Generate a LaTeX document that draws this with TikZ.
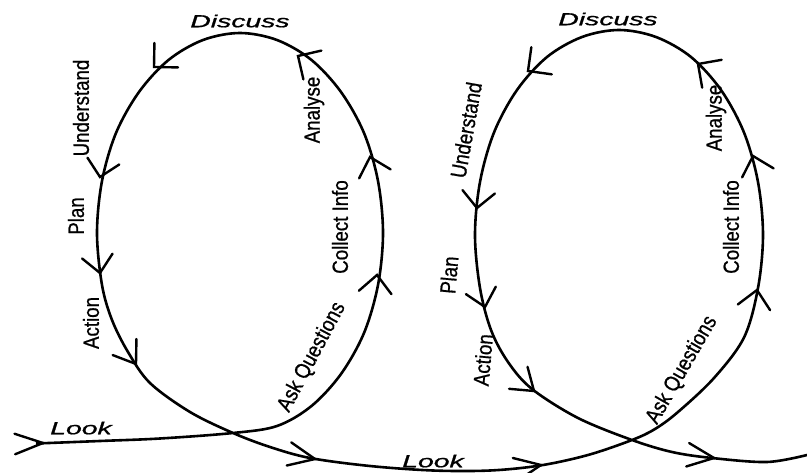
\documentclass[tikz,border=0pt]{standalone}
\usepackage{fontspec}
\setmainfont{Liberation Sans}[FakeBold=0.8]
\usepackage{graphicx}
\newcommand\vtip[5]{\draw[tipline] (#1,#2) ++({#3+180+#4}:#5pt) -- (#1,#2) -- ++({#3+180-#4}:#5pt);}
\begin{document}
\begin{tikzpicture}[x=1pt,y=-1pt,
  loopline/.style={line width=2.6pt, line join=round},
  tipline/.style={line width=2.4pt, line cap=round, line join=miter},
  hlabel/.style={font=\fontsize{17.5}{18}\selectfont\itshape, inner sep=0pt},
  rlabel/.style={font=\fontsize{22}{22}\selectfont, inner sep=0pt}]
\useasboundingbox (0,0) rectangle (807,473);
\fill[white] (0,0) rectangle (807,473);
% the single curve with its two loops
\draw[loopline] plot[smooth, tension=0.55] coordinates {
  (36,443.5) (100,441) (160,438.5) (233,433) (277,426) (311.5,406) (341,374)
  (364,333) (378,285) (383,233) (378,181) (364,133) (341,92) (311.5,60)
  (277,40) (240,33) (203,40) (168.5,60) (139,92) (116,133) (102,181)
  (97,233) (102,285) (112,320) (128,352) (150,383) (190,412) (233,433) (270,447)
  (310,458) (370,466) (433,470.5) (490,470.5) (540,465.5) (588,455)
  (632,440) (655,429) (678,412) (714,378) (744,337.5) (758,288) (763,235)
  (758,182) (744,132.5) (721,90) (691,57) (656,37) (619,30) (582,37)
  (547,57) (517,90) (494,132.5) (480,182) (475,235) (480,288) (491,330)
  (508,362) (532,389) (578,418) (632,440) (672,452) (712,458) (767,462) (807,455)};
% arrow heads
\vtip{43}{443}{2}{20}{30}
\vtip{377}{275}{84}{43}{24}
\vtip{370}{157}{106}{43}{24}
\vtip{298}{56}{148}{45}{24}
\vtip{154}{67}{-136}{45}{24}
\vtip{100}{177}{-102}{45}{23}
\vtip{100}{273}{-81}{42}{23}
\vtip{136}{364}{-56}{35}{25}
\vtip{315}{459}{-11}{24}{29}
\vtip{541}{465}{10}{24}{29}
\vtip{757}{290}{80}{43}{24}
\vtip{753}{156}{106}{43}{24}
\vtip{698}{64}{145}{45}{24}
\vtip{528}{71}{-143}{45}{24}
\vtip{477}{208}{-96}{45}{23}
\vtip{485}{307}{-76}{42}{23}
\vtip{534}{391}{-40}{35}{25}
\vtip{714}{458}{-7}{24}{29}
% labels, left loop
\node[hlabel] (d1) at (240,21) {\scalebox{1.62}[1]{Discuss}};
\node[hlabel] (l1) at (81,428) {\scalebox{1.62}[1]{Look}};
\node[rlabel, rotate=90] (u1) at (81,108) {\scalebox{0.85}[1]{Understand}};
\node[rlabel, rotate=90] (p1) at (76,216) {\scalebox{0.85}[1]{Plan}};
\node[rlabel, rotate=90] (a1) at (91,323) {\scalebox{0.85}[1]{Action}};
\node[rlabel, rotate=62] (q1) at (312,357) {\scalebox{0.85}[1]{Ask Questions}};
\node[rlabel, rotate=90] (c1) at (340,227) {\scalebox{0.85}[1]{Collect Info}};
\node[rlabel, rotate=90] (n1) at (314,110) {\scalebox{0.85}[1]{Analyse}};
% labels, right loop
\node[hlabel] (d2) at (608,19) {\scalebox{1.62}[1]{Discuss}};
\node[hlabel] (l2) at (433,461) {\scalebox{1.62}[1]{Look}};
\node[rlabel, rotate=80] (u2) at (466,130) {\scalebox{0.85}[1]{Understand}};
\node[rlabel, rotate=85] (p2) at (449,275) {\scalebox{0.85}[1]{Plan}};
\node[rlabel, rotate=85] (a2) at (483,360) {\scalebox{0.85}[1]{Action}};
\node[rlabel, rotate=60] (q2) at (682,370) {\scalebox{0.85}[1]{Ask Questions}};
\node[rlabel, rotate=90] (c2) at (731,227) {\scalebox{0.85}[1]{Collect Info}};
\node[rlabel, rotate=90] (n2) at (716,118) {\scalebox{0.85}[1]{Analyse}};
\end{tikzpicture}
\end{document}
